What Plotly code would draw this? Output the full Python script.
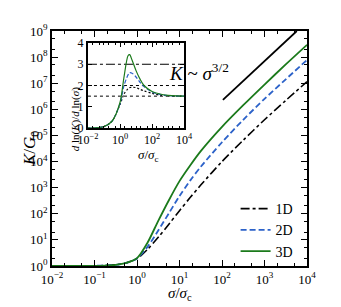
import plotly.graph_objects as go

# ---- main panel data (log10 values) ----
log_sigma = [-2, -1.5, -1, -0.75, -0.5, -0.25, 0, 0.25, 0.5, 0.75, 1, 1.25, 1.5, 2, 2.5, 3, 3.5, 4]
logK_1D = [0, 0.002, 0.008, 0.018, 0.045, 0.12, 0.28, 0.64, 1.1, 1.6, 2.12, 2.62, 3.1, 4.0, 4.82, 5.6, 6.34, 7.06]
logK_2D = [0, 0.002, 0.008, 0.018, 0.045, 0.12, 0.29, 0.74, 1.36, 2.02, 2.68, 3.27, 3.8, 4.74, 5.6, 6.4, 7.15, 7.89]
logK_3D = [0, 0.002, 0.008, 0.018, 0.045, 0.12, 0.30, 0.9, 1.73, 2.52, 3.25, 3.85, 4.4, 5.33, 6.16, 6.95, 7.72, 8.47]

ref_sigma = [105, 5750]
ref_K = [2.3e6, 1.0e9]

# ---- inset data: d ln K / d ln sigma ----
log_sigma_in = [-2, -1.5, -1, -0.5, 0, 0.25, 0.5, 0.6, 0.75, 1, 1.25, 1.5, 2, 2.5, 3, 3.5, 4]
dK_1D = [0, 0.01, 0.07, 0.32, 1.1, 1.6, 1.85, 1.9, 1.92, 1.9, 1.82, 1.75, 1.63, 1.55, 1.52, 1.5, 1.5]
dK_2D = [0, 0.01, 0.07, 0.32, 1.15, 2.0, 2.5, 2.6, 2.58, 2.4, 2.15, 1.95, 1.7, 1.58, 1.53, 1.51, 1.5]
dK_3D = [0, 0.01, 0.07, 0.32, 1.2, 2.4, 3.4, 3.45, 3.2, 2.7, 2.3, 2.0, 1.72, 1.6, 1.54, 1.51, 1.5]
guide_levels = [1.5, 2, 3]
guide_dash = ["dot", "3px,3px", "dashdot"]

main_xticks = [-2, -1, 0, 1, 2, 3, 4]
main_yticks = [0, 1, 2, 3, 4, 5, 6, 7, 8, 9]
inset_xticks = [-2, 0, 2, 4]
inset_yticks = [0, 1, 2, 3, 4]

FONT = "Liberation Serif"
C1, C2, C3 = "#000000", "#2c62c9", "#1b7a1b"


def sup(p):
    return "10<sup>" + (str(p) if p >= 0 else "\u2212" + str(-p)) + "</sup>"


sig = [10 ** v for v in log_sigma]
sig_in = [10 ** v for v in log_sigma_in]

fig = go.Figure()
series = [("1D", logK_1D, dK_1D, C1, "dashdot", 1.6),
          ("2D", logK_2D, dK_2D, C2, "6px,3px", 1.8),
          ("3D", logK_3D, dK_3D, C3, "solid", 1.8)]
for name, lk, dk, col, dash, w in series:
    fig.add_trace(go.Scatter(x=sig, y=[10 ** v for v in lk], mode="lines", name=name,
                             line=dict(color=col, dash=dash, width=w, shape="spline", smoothing=0.8),
                             xaxis="x", yaxis="y"))
fig.add_trace(go.Scatter(x=ref_sigma, y=ref_K, mode="lines", showlegend=False,
                         line=dict(color="black", width=1.8), xaxis="x", yaxis="y"))

for lvl, d in zip(guide_levels, guide_dash):
    fig.add_trace(go.Scatter(x=[sig_in[0], sig_in[-1]], y=[lvl, lvl], mode="lines", showlegend=False,
                             line=dict(color="black", dash=d, width=1), xaxis="x2", yaxis="y2"))
inset_dash = {"1D": "2px,2px", "2D": "4px,2px", "3D": "solid"}
for name, lk, dk, col, dash, w in series:
    fig.add_trace(go.Scatter(x=sig_in, y=dk, mode="lines", showlegend=False,
                             line=dict(color=col, dash=inset_dash[name],
                                       width=1.2, shape="spline", smoothing=0.8),
                             xaxis="x2", yaxis="y2"))

axis_common = dict(showline=True, linecolor="black", mirror="allticks", ticks="inside",
                   tickcolor="black", showgrid=False, zeroline=False)

fig.update_layout(
    width=341, height=307,
    margin=dict(l=52, r=34, t=31, b=41),
    paper_bgcolor="white", plot_bgcolor="white",
    font=dict(family=FONT, color="black", size=13),
    xaxis=dict(type="log", range=[-2, 4], domain=[0, 1],
               tickvals=[10 ** v for v in main_xticks], ticktext=[sup(v) for v in main_xticks],
               ticklen=6, tickwidth=1.2, linewidth=1.8,
               minor=dict(ticks="inside", ticklen=3, tickcolor="black", tickwidth=0.8, showgrid=False),
               tickfont=dict(size=13, family=FONT), **axis_common),
    yaxis=dict(type="log", range=[0, 9], domain=[0, 1],
               tickvals=[10 ** v for v in main_yticks], ticktext=[sup(v) for v in main_yticks],
               ticklen=6, tickwidth=1.2, linewidth=1.8,
               minor=dict(ticks="inside", ticklen=3, tickcolor="black", tickwidth=0.8, showgrid=False),
               tickfont=dict(size=13, family=FONT), **axis_common),
    xaxis2=dict(type="log", range=[-2, 4], domain=[0.141, 0.518], anchor="y2",
                tickvals=[10 ** v for v in inset_xticks], ticktext=[sup(v) for v in inset_xticks],
                ticklen=4, tickwidth=1, linewidth=2,
                minor=dict(ticks="inside", ticklen=2, tickcolor="black", tickwidth=0.7, showgrid=False),
                tickfont=dict(size=12, family=FONT), **axis_common),
    yaxis2=dict(range=[0, 4], domain=[0.587, 0.949], anchor="x2",
                tickvals=inset_yticks, ticklen=4, tickwidth=1, linewidth=2,
                tickfont=dict(size=12, family=FONT), **axis_common),
    legend=dict(x=0.72, y=0.153, xanchor="left", yanchor="middle", bgcolor="rgba(0,0,0,0)",
                font=dict(size=14, family=FONT), tracegroupgap=0),
    showlegend=True,
)

fig.add_annotation(xref="paper", yref="paper", x=0.5, y=-0.121, yanchor="middle", showarrow=False,
                   text="<i>σ</i>/<i>σ</i><sub>c</sub>", font=dict(size=15, family=FONT))
fig.add_annotation(xref="paper", yref="paper", x=-0.135, y=0.5, textangle=-90, showarrow=False,
                   text="<i>K</i>/<i>G</i><sub>0</sub>", font=dict(size=17, family=FONT))
fig.add_annotation(xref="paper", yref="paper", x=0.329, y=0.472, yanchor="middle", showarrow=False,
                   text="<i>σ</i>/<i>σ</i><sub>c</sub>", font=dict(size=13, family=FONT))
fig.add_annotation(xref="paper", yref="paper", x=0.06, y=0.768, textangle=-90, showarrow=False,
                   text="<i>d</i> ln(<i>K</i>)/<i>d</i> ln(<i>σ</i>)", font=dict(size=11, family=FONT))
fig.add_annotation(xref="paper", yref="paper", x=0.701, y=0.885, showarrow=False,
                   text="<i>K</i> ~ <i>σ</i><sup>3/2</sup>", font=dict(size=19, family=FONT))

fig.write_html("out.html", config={"displayModeBar": False},
               post_script="document.body.style.margin='0px';")
